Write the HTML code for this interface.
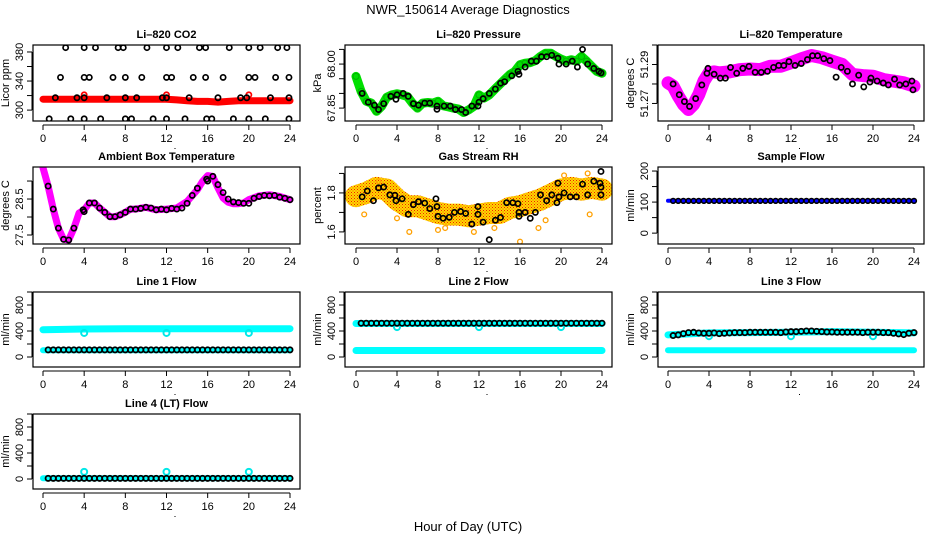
<!DOCTYPE html>
<html><head><meta charset="utf-8">
<style>
html,body{margin:0;padding:0;background:#fff;}
svg{display:block;font-family:"Liberation Sans",Arial,sans-serif;}
</style></head>
<body>
<svg id="chart" width="936" height="540" viewBox="0 0 936 540" xmlns="http://www.w3.org/2000/svg">
<defs>
<pattern id="rhPat" width="3" height="3" patternUnits="userSpaceOnUse">
<rect width="3" height="3" fill="#ffd800"/><rect width="1" height="1" fill="#f02000"/><rect x="1.5" y="1.5" width="1" height="1" fill="#f05000"/>
</pattern>
</defs>
<text x="468" y="14" text-anchor="middle" font-size="13">NWR_150614  Average Diagnostics</text>
<text x="468" y="531" text-anchor="middle" font-size="13">Hour of Day (UTC)</text>
</svg>
<script>
// ---- data ----
const xTicks = [0,4,8,12,16,20,24];
const co2RedH = [0,2,4,6,8,10,12,13,14,15,16,17,18,19,20,21,22,23,24];
const co2RedV = [315,315,315,315,315,315,315,314,313,312,312,311,312,313,313,313,313,313,313];
const co2RedOutH = [4,12,20];
const co2RedOutV = [321,321,321];
const co2BlackH = [2.2,4,5.1,7.3,7.8,10.1,12,13.1,15.2,15.8,18.1,20,21.1,22.8,23.7, 1.7,4,4.5,6.8,8,9.6,12,12.5,14.6,15.8,17.5,20,20.6,22.6,23.9, 1.2,3.3,4,6.2,8,9.1,11.6,12,14.2,17,19.2,19.8,22.1,23.9, 0.6,2.7,4,5.6,8,8.6,10.7,12,13.8,15.9,16.4,18.5,20,21.6,23.9];
const co2BlackV = [386,386,386,386,386,386,386,386,386,386,386,386,386,386,386, 345,345,345,345,345,345,345,345,345,345,345,345,345,345,345, 317,317,317,317,317,317,317,317,317,317,317,317,317,317, 288,288,288,288,288,288,288,288,288,288,288,288,288,288,288];

const presH = [0,0.5,1,1.5,2,2.5,3,3.5,4,4.5,5,5.5,6,6.5,7,7.5,8,8.5,9,9.5,10,10.5,11,11.5,12,12.5,13,13.5,14,14.5,15,15.5,16,16.5,17,17.5,18,18.5,19,19.5,20,20.5,21,21.5,22,22.5,23,23.5,24];
const presV = [67.958,67.907,67.873,67.867,67.839,67.856,67.887,67.895,67.899,67.895,67.89,67.867,67.85,67.867,67.869,67.867,67.873,67.858,67.854,67.85,67.847,67.835,67.844,67.856,67.895,67.884,67.895,67.913,67.93,67.947,67.964,67.975,67.998,68.003,68.005,68.012,68.026,68.037,68.037,68.026,68.017,68.01,68.015,68.01,68.026,68.01,67.992,67.975,67.969];
const presBlackH = [0.6,1.2,1.8,2.2,2.7,3.4,3.9,4.0,4.6,5.1,5.6,6.1,6.7,7.2,7.9,7.9,8.6,9.2,9.7,10.3,10.7,11.3,11.9,12,12.4,13,13.6,14.1,14.5,15.2,15.8,15.9,16.5,17.1,17.6,18.1,18.6,19.1,19.7,19.8,20.5,21.1,21.6,22.1,22.6,23.2,23.7,23.9];
const presBlackV = [67.9,67.87,67.86,67.845,67.865,67.89,67.88,67.895,67.9,67.89,67.865,67.86,67.867,67.867,67.857,67.846,67.857,67.857,67.845,67.845,67.835,67.857,67.857,67.87,67.882,67.9,67.915,67.935,67.94,67.96,67.975,67.965,67.99,68.01,68.01,68.025,68.025,68.03,68.02,68.0,68.0,68.01,67.99,68.05,68.0,67.985,67.975,67.97];

const ltH = [0,0.5,1,1.5,2,2.5,3,3.5,4,4.5,5,6,7,8,9,10,11,12,13,14,15,16,17,18,19,20,21,22,23,24];
const ltV = [51.2806,51.2789,51.2738,51.2695,51.2669,51.2695,51.2746,51.2815,51.2857,51.2862,51.2857,51.2862,51.2874,51.2877,51.2874,51.2891,51.2891,51.2909,51.2929,51.2946,51.2935,51.2917,51.29,51.2849,51.2843,51.284,51.2823,51.2815,51.2806,51.2789];
const ltBlackH = [0.5,1.1,1.6,2.1,2.7,3.3,3.8,3.9,4.5,5.1,5.6,6.1,6.7,7.3,7.9,8.5,9.1,9.7,10.3,10.8,11.3,11.8,12.4,13,13.6,14.1,14.6,15.2,15.8,16.4,16.9,17.5,18,18.6,19.1,19.7,19.8,20.4,21,21.5,22.1,22.6,23.2,23.8,23.9];
const ltBlackV = [51.28,51.2745,51.271,51.2685,51.2725,51.2795,51.2855,51.288,51.285,51.283,51.283,51.2885,51.2855,51.288,51.289,51.286,51.286,51.2865,51.2885,51.2895,51.2895,51.2915,51.2895,51.2905,51.2925,51.2945,51.2945,51.293,51.292,51.2835,51.2885,51.2865,51.28,51.2845,51.2785,51.281,51.283,51.2815,51.2805,51.2795,51.2825,51.2795,51.28,51.2815,51.277];

const ambH = [0,0.5,1,1.5,2,2.5,3,3.5,4,4.5,5,5.5,6,6.5,7,7.5,8,8.5,9,10,11,12,13,14,15,15.5,16,16.5,17,17.5,18,18.5,19,19.5,20,21,22,23,24];
const ambV = [29.37,28.86,28.22,27.69,27.38,27.36,27.69,28.11,28.2,28.39,28.39,28.25,28.13,28.01,28.01,28.06,28.13,28.22,28.22,28.27,28.2,28.22,28.25,28.43,28.76,28.99,29.15,29.13,28.81,28.53,28.41,28.37,28.37,28.39,28.48,28.59,28.62,28.57,28.48];
const ambBlackH = [0.5,1,1.5,2,2.5,3,3.9,4,4.5,5,5.5,6,6.5,7,7.5,8,8.5,9,9.5,10,10.5,11,11.5,12,12.5,13,13.5,14,14.5,15,15.9,16,16.5,17,17.5,18,18.5,19,19.5,20,20.5,21,21.5,22,22.5,23,23.5,24];
const ambBlackV = [28.86,28.22,27.69,27.38,27.36,27.69,28.2,28.15,28.39,28.39,28.25,28.13,28.01,28.01,28.06,28.13,28.22,28.22,28.24,28.27,28.25,28.2,28.22,28.2,28.24,28.22,28.25,28.38,28.6,28.8,29.05,29.0,29.13,28.9,28.68,28.5,28.42,28.4,28.38,28.38,28.52,28.57,28.6,28.59,28.6,28.55,28.52,28.48];

const rhH = [0,1,2,3,4,5,6,7,8,9,10,11,12,13,14,15,16,17,18,19,20,21,22,23,24];
const rhV = [1.783,1.8,1.826,1.817,1.766,1.732,1.732,1.715,1.697,1.689,1.689,1.68,1.689,1.697,1.697,1.723,1.732,1.749,1.766,1.791,1.817,1.826,1.817,1.826,1.817];
const rhOutH = [0.8,2.2,4,5.2,8,8.7,11.5,13.5,16,17.8,18.5,20.3,22.8,22.6];
const rhOutV = [1.69,1.86,1.67,1.6,1.61,1.62,1.6,1.62,1.55,1.62,1.66,1.89,1.69,1.90];
const rhBlackH = [0.6,1.1,1.7,2.2,2.7,3.3,3.8,3.9,4.5,5.1,5.6,6.1,6.7,7.2,7.8,7.9,8,8.5,9.1,9.6,10.2,10.7,11.3,11.9,11.9,12.4,13,13.6,14.1,14.7,15.3,15.8,15.9,15.9,16.5,17,17.5,18,18.6,19.1,19.6,19.7,19.8,20.3,20.9,21.5,22.1,22.6,23.2,23.8,23.9,23.9,23.9];
const rhBlackV = [1.78,1.81,1.76,1.826,1.83,1.79,1.788,1.76,1.77,1.69,1.74,1.755,1.748,1.72,1.77,1.73,1.68,1.67,1.675,1.7,1.705,1.695,1.64,1.73,1.69,1.65,1.56,1.66,1.674,1.75,1.75,1.745,1.70,1.68,1.70,1.67,1.70,1.79,1.76,1.79,1.75,1.85,1.78,1.80,1.78,1.78,1.845,1.79,1.86,1.85,1.79,1.83,1.91];

const flowHours = [0.5,1,1.5,2,2.5,3,3.5,4,4.5,5,5.5,6,6.5,7,7.5,8,8.5,9,9.5,10,10.5,11,11.5,12,12.5,13,13.5,14,14.5,15,15.5,16,16.5,17,17.5,18,18.5,19,19.5,20,20.5,21,21.5,22,22.5,23,23.5,24];
const sampleV = [104,104,104,104,104,104,104,104,104,104,104,104,104,104,104,104,104,104,104,104,104,104,104,104,104,104,104,104,104,104,104,104,104,104,104,104,104,104,104,104,104,104,104,104,104,104,104,104];
const line1V = [110,110,110,110,110,110,110,110,110,110,110,110,110,110,110,110,110,110,110,110,110,110,110,110,110,110,110,110,110,110,110,110,110,110,110,110,110,110,110,110,110,110,110,110,110,110,110,110];
const line2V = [520,520,520,520,520,520,520,520,520,520,520,520,520,520,520,520,520,520,520,520,520,520,520,520,520,520,520,520,520,520,520,520,520,520,520,520,520,520,520,520,520,520,520,520,520,520,520,520];
const line3V = [330,340,360,375,380,370,365,365,370,360,365,370,375,375,375,380,380,380,380,380,380,375,385,390,390,395,400,400,395,390,385,385,380,380,380,380,380,375,380,380,380,375,375,365,355,345,365,375];
const line4V = [10,10,10,10,10,10,10,10,10,10,10,10,10,10,10,10,10,10,10,10,10,10,10,10,10,10,10,10,10,10,10,10,10,10,10,10,10,10,10,10,10,10,10,10,10,10,10,10];
const bandH = [0,4,8,12,16,20,24];
const sampleBlueV = [104,104,104,104,104,104,104];
const line1CyanHi = [420,430,435,435,435,435,435];
const line1CyanLo = [105,105,105,105,105,105,105];
const line2CyanHi = [515,515,515,515,515,515,515];
const line2CyanLo = [100,100,100,100,100,100,100];
const line3CyanHi = [340,370,375,380,390,380,370];
const line3CyanLo = [105,105,105,105,105,105,105];
const line4CyanLo = [10,10,10,10,10,10,10];
const outH = [4,12,20];
const line1OutV = [370,370,370];
const line2OutV = [460,460,460];
const line3OutV = [320,320,320];
const line4OutV = [110,110,110];
const co2Ticks = [300,320,340,360,380], co2Labels = [300,340,380];
const presTicks = [67.85,67.90,67.95,68.00,68.05], presLabels = ["67.85","68.00"], presLabelAt = [67.85,68.00];
const ltTicks = [51.27,51.28,51.29,51.30], ltLabels = ["51.27","51.29"], ltLabelAt = [51.27,51.29];
const ambTicks = [27.5,28,28.5,29], ambLabels = ["27.5","28.5"], ambLabelAt = [27.5,28.5];
const rhTicks = [1.6,1.7,1.8,1.9], rhLabels = ["1.6","1.8"], rhLabelAt = [1.6,1.8];
const sfTicks = [0,50,100,150,200], sfLabels = [0,100,200];
const flTicks = [0,200,400,600,800,1000], flLabels = [0,400,800];

// ---- drawing ----
const NS = "http://www.w3.org/2000/svg";
const svg = document.getElementById("chart");
const cols = [{x0:33,x1:300,h0:43,h24:290},{x0:345,x1:612,h0:356,h24:602},{x0:658,x1:924,h0:668,h24:914}];
const rows = [[45,121],[167,244],[292,367],[414,489]];
function mk(tag, parent, attrs){ const e=document.createElementNS(NS,tag); for(const k in attrs) e.setAttribute(k,attrs[k]); parent.appendChild(e); return e; }

function panel(c, r, ymin, ymax, title, ylab, ticks, labVals, labText, name){
  const C = cols[c], R = rows[r];
  const g = mk("g", svg, {});
  
  
  const sx = h => C.h0 + (C.h24 - C.h0) * h / 24;
  const sy = v => R[1] - (R[1] - R[0]) * (v - ymin) / (ymax - ymin);
  const clipId = "clip" + c + r;
  const cp = mk("clipPath", g, {id: clipId});
  mk("rect", cp, {x:C.x0, y:R[0], width:C.x1-C.x0, height:R[1]-R[0]});
  const plot = mk("g", g, {"clip-path":"url(#"+clipId+")"});
  
  
  const frame = mk("rect", g, {x:C.x0, y:R[0], width:C.x1-C.x0, height:R[1]-R[0], fill:"none", stroke:"#000", "stroke-width":1.2});
  
  
  const t = mk("text", g, {x:(C.x0+C.x1)/2, y:R[0]-7, "text-anchor":"middle", "font-size":11, "font-weight":"bold"});
  t.textContent = title;
  
  
  const xa = mk("g", g, {});
  
  
  mk("line", xa, {x1:sx(0), x2:sx(24), y1:R[1]+4, y2:R[1]+4, stroke:"#000"});
  xTicks.forEach(h => {
    mk("line", xa, {x1:sx(h), x2:sx(h), y1:R[1]+4, y2:R[1]+9, stroke:"#000"});
    const l = mk("text", xa, {x:sx(h), y:R[1]+21, "text-anchor":"middle", "font-size":11});
    l.textContent = h;
    
    
  });
  mk("rect", xa, {x:(C.x0+C.x1)/2+8, y:R[1]+27, width:1, height:1, fill:"#000"});
  const ya = mk("g", g, {});
  
  
  const ax = C.x0 - 1;
  mk("line", ya, {x1:ax, x2:ax, y1:sy(ticks[0]), y2:sy(ticks[ticks.length-1]), stroke:"#000"});
  ticks.forEach(v => { mk("line", ya, {x1:ax-5, x2:ax, y1:sy(v), y2:sy(v), stroke:"#000"}); });
  labVals.forEach((v,i) => {
    const yy = sy(v), xx = C.x0 - 10;
    const l = mk("text", ya, {x:xx, y:yy, "text-anchor":"middle", "font-size":11, transform:"rotate(-90 "+xx+" "+yy+")"});
    l.textContent = labText[i];
    
    
  });
  const yx = C.x0 - 24, yy = (R[0]+R[1])/2;
  const yl = mk("text", ya, {x:yx, y:yy, "text-anchor":"middle", "font-size":11, transform:"rotate(-90 "+yx+" "+yy+")"});
  yl.textContent = ylab;
  
  
  return {sx, sy, plot};
}
function band(P, hs, vs, color, w, nm){
  const pts = hs.map((h,i) => P.sx(h).toFixed(1)+","+P.sy(vs[i]).toFixed(1)).join(" ");
  const pl = mk("polyline", P.plot, {points:pts, fill:"none", stroke:color, "stroke-width":w, "stroke-linejoin":"round", "stroke-linecap":"round"});
  
  
}
function circles(P, hs, vs, color, nm, r, sw){
  hs.forEach((h,i) => {
    const c = mk("circle", P.plot, {cx:P.sx(h), cy:P.sy(vs[i]), r:r||2.6, fill:"none", stroke:color, "stroke-width":sw||1.7});
    
    
  });
}

let P = panel(0,0,285,389.6,"Li\u2013820 CO2","Licor ppm",co2Ticks,co2Labels,co2Labels,"co2");
band(P, co2RedH, co2RedV, "#ff0000", 7, "co2-red-band");
circles(P, co2RedOutH, co2RedOutV, "#ff0000", "co2-red-point");
circles(P, co2BlackH, co2BlackV, "#000", "co2-black-point");

P = panel(1,0,67.806,68.065,"Li\u2013820 Pressure","kPa",presTicks,presLabelAt,presLabels,"pressure");
band(P, presH, presV, "#00e000", 9, "pressure-green-band");
circles(P, presH, presV, "#00b000", "pressure-green-point", 3, 1);
circles(P, presBlackH, presBlackV, "#000", "pressure-black-point");

P = panel(2,0,51.261,51.300,"Li\u2013820 Temperature","degrees C",ltTicks,ltLabelAt,ltLabels,"li-temp");
band(P, ltH, ltV, "#ff00ff", 13, "li-temp-magenta-band");
circles(P, ltBlackH, ltBlackV, "#000", "li-temp-black-point");

P = panel(0,1,27.25,29.39,"Ambient Box Temperature","degrees C",ambTicks,ambLabelAt,ambLabels,"ambient");
band(P, ambH, ambV, "#ff00ff", 7, "ambient-magenta-band");
circles(P, ambBlackH, ambBlackV, "#000", "ambient-black-point");

P = panel(1,1,1.538,1.933,"Gas Stream RH","percent",rhTicks,rhLabelAt,rhLabels,"rh");
band(P, rhH, rhV, "url(#rhPat)", 22, "rh-orange-cloud");
circles(P, rhOutH, rhOutV, "#ffa000", "rh-outlier-point", 2.4, 1.3);
circles(P, rhBlackH, rhBlackV, "#000", "rh-black-point");

P = panel(2,1,-35,213,"Sample Flow","ml/min",sfTicks,sfLabels,sfLabels,"sample-flow");
band(P, bandH, sampleBlueV, "#0000ff", 4, "sample-flow-blue-band");
circles(P, flowHours, sampleV, "#000", "sample-flow-black-point", 2.4, 1.5);

P = panel(0,2,-154,1000,"Line 1 Flow","ml/min",flTicks,flLabels,flLabels,"line1-flow");
band(P, bandH, line1CyanHi, "#00ffff", 7, "line1-cyan-high");
band(P, bandH, line1CyanLo, "#00ffff", 6, "line1-cyan-low");
circles(P, outH, line1OutV, "#00e8e8", "line1-cyan-outlier", 3, 2);
circles(P, flowHours, line1V, "#000", "line1-black-point", 2.6, 1.8);

P = panel(1,2,-154,1000,"Line 2 Flow","ml/min",flTicks,flLabels,flLabels,"line2-flow");
band(P, bandH, line2CyanHi, "#00ffff", 7, "line2-cyan-high");
band(P, bandH, line2CyanLo, "#00ffff", 7, "line2-cyan-low");
circles(P, outH, line2OutV, "#00e8e8", "line2-cyan-outlier", 3, 2);
circles(P, flowHours, line2V, "#000", "line2-black-point", 2.6, 1.8);

P = panel(2,2,-154,1000,"Line 3 Flow","ml/min",flTicks,flLabels,flLabels,"line3-flow");
band(P, bandH, line3CyanHi, "#00ffff", 7, "line3-cyan-high");
band(P, bandH, line3CyanLo, "#00ffff", 6, "line3-cyan-low");
circles(P, outH, line3OutV, "#00e8e8", "line3-cyan-outlier", 3, 2);
circles(P, flowHours, line3V, "#000", "line3-black-point", 2.6, 1.8);

P = panel(0,3,-154,1000,"Line 4 (LT) Flow","ml/min",flTicks,flLabels,flLabels,"line4-flow");
band(P, bandH, line4CyanLo, "#00ffff", 6, "line4-cyan-low");
circles(P, outH, line4OutV, "#00e8e8", "line4-cyan-outlier", 3, 2);
circles(P, flowHours, line4V, "#000", "line4-black-point", 2.6, 1.8);
</script>
</body></html>
